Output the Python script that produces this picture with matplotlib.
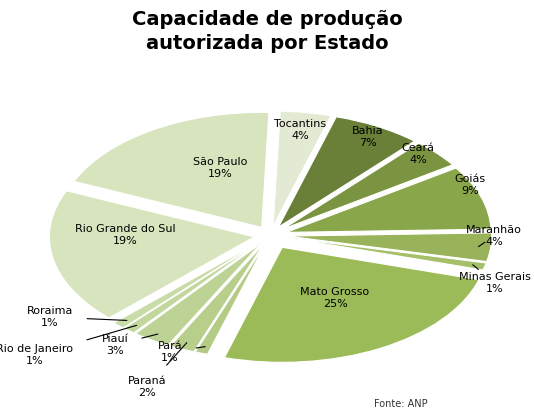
import numpy as np
import matplotlib.pyplot as plt

estados = ["Tocantins", "Bahia", "Ceará", "Goiás", "Maranhão", "Minas Gerais",
           "Mato Grosso", "Pará", "Paraná", "Piauí", "Rio de Janeiro", "Roraima",
           "Rio Grande do Sul", "São Paulo"]
percent = [4, 7, 4, 9, 4, 1, 25, 1, 2, 3, 1, 1, 19, 19]

colors = ["#e3ead3", "#6a7f38", "#7b9441", "#8aa64b", "#98b359", "#a6bf69",
          "#9bbb59", "#b3cb85", "#b8cf8c", "#bdd395", "#c3d79d", "#c9dba6",
          "#d7e4bd", "#d7e4bd"]
# label centres in reference pixels (style)
label_px = [(300, 130), (368, 137), (418, 154), (470, 185), (494, 236), (495, 283),
            (335, 298), (170, 352), (147, 387), (115, 345), (35, 355), (50, 317),
            (125, 235), (220, 168)]
line_tip = [False, False, False, False, True, True, False, True, True, True, True, True, False, False]

W, H = 534, 417
fig = plt.figure(figsize=(W / 100, H / 100), dpi=100)
fig.text(0.5, 0.975, "Capacidade de produção\nautorizada por Estado", ha="center", va="top",
         fontsize=14, fontweight="bold", linespacing=1.3)
fig.text(0.70, 0.025, "Fonte: ANP", fontsize=7, color="#333333")

ax = fig.add_axes([0.046, 0.105, 0.921, 0.662])
explode = [0.08] * len(percent)
explode[6] = 0.12
wedges, _ = ax.pie(percent, colors=colors, startangle=88, counterclock=False,
                   explode=explode, wedgeprops=dict(edgecolor="white", linewidth=0.8))
ax.set_aspect("auto")
ax.set_xlim(-1.2, 1.2)
ax.set_ylim(-1.2, 1.2)

for w, name, p, (px, py), tip in zip(wedges, estados, percent, label_px, line_tip):
    xy_text = (px / W, 1 - py / H)
    if tip:
        ang = np.deg2rad((w.theta1 + w.theta2) / 2)
        ax.annotate(f"{name}\n{p}%", xy=(1.02 * np.cos(ang), 1.02 * np.sin(ang)),
                    xytext=xy_text, textcoords="figure fraction",
                    ha="center", va="center", fontsize=8,
                    arrowprops=dict(arrowstyle="-", color="black", lw=0.8,
                                    shrinkA=8, shrinkB=0))
    else:
        ax.annotate(f"{name}\n{p}%", xy=xy_text, xycoords="figure fraction",
                    ha="center", va="center", fontsize=8)

plt.savefig("out.png", dpi=100)
